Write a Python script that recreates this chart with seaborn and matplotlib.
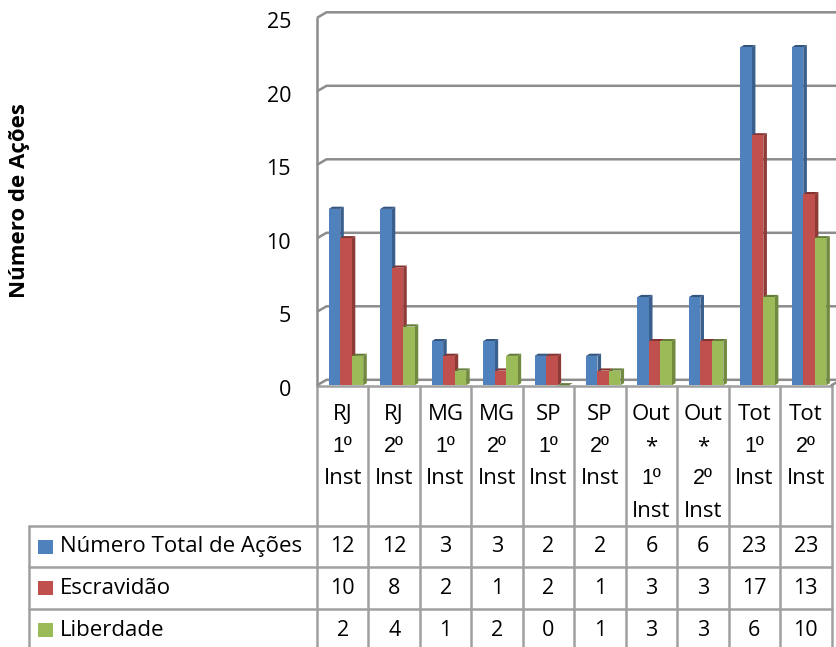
import numpy as np
import pandas as pd
import matplotlib
matplotlib.use("Agg")
import matplotlib.pyplot as plt
import seaborn as sns
from matplotlib.patches import Polygon, Rectangle

# ---------------- data ----------------
categories = ["RJ\n1º\nInst", "RJ\n2º\nInst", "MG\n1º\nInst", "MG\n2º\nInst",
              "SP\n1º\nInst", "SP\n2º\nInst", "Out\n*\n1º\nInst", "Out\n*\n2º\nInst",
              "Tot\n1º\nInst", "Tot\n2º\nInst"]
series_names = ["Número Total de Ações", "Escravidão", "Liberdade"]
total = [12, 12, 3, 3, 2, 2, 6, 6, 23, 23]
escravidao = [10, 8, 2, 1, 2, 1, 3, 3, 17, 13]
liberdade = [2, 4, 1, 2, 0, 1, 3, 3, 6, 10]
y_ticks = [0, 5, 10, 15, 20, 25]
y_label = "Número de Ações"

face_colors = ["#4F81BD", "#C0504D", "#9BBB59"]
side_colors = ["#3A5F8C", "#8E3A37", "#718A40"]
top_colors = ["#34557E", "#83332F", "#667D39"]
grid_c = "#8C8C8C"
table_c = "#A0A0A0"

sns.set_theme(style="white")
plt.rcParams['font.family'] = ['Open Sans', 'DejaVu Sans']
FS = 16
ORD_FAMILY = ['Liberation Sans', 'DejaVu Sans']

W, H = 836, 647
fig = plt.figure(figsize=(W / 100, H / 100), dpi=100)
fig.patch.set_facecolor("white")

# layout (pixels)
ncol = len(categories)
x_left = 317.0
col_w = 51.45
x_right = x_left + col_w * ncol
y_zero = 385.3
px_per_unit = 14.7
ymax = 25
y_top = y_zero - ymax * px_per_unit

# overlay axes in pixel space for the data table
tab = fig.add_axes([0, 0, 1, 1])
tab.set_xlim(0, W)
tab.set_ylim(H, 0)
tab.axis("off")

ax = fig.add_axes([x_left / W, 1 - y_zero / H, (x_right - x_left) / W, (y_zero - y_top) / H])
ax.patch.set_visible(False)

df = pd.DataFrame({
    "Categoria": categories * 3,
    "Série": np.repeat(series_names, ncol),
    "Valor": total + escravidao + liberdade,
})
sns.barplot(data=df, x="Categoria", y="Valor", hue="Série", order=categories,
            hue_order=series_names, palette=face_colors, saturation=1,
            width=0.67, gap=0, legend=False, errorbar=None, ax=ax)

shift = 3.25 / col_w
ax.set_xlim(-0.5 - shift, ncol - 0.5 - shift)
ax.set_ylim(0, ymax)
ax.set_xticks([])
ax.set_yticks([])
ax.set_xlabel("")
ax.set_ylabel("")
for s in ax.spines.values():
    s.set_visible(False)

# 3D bar sides and tops
dx = 3.6 / col_w
dy = 2.2 / px_per_unit
for k, cont in enumerate(ax.containers):
    for p in cont:
        x0, w, h = p.get_x(), p.get_width(), p.get_height()
        p.set_edgecolor("none")
        p.set_zorder(3 + 0.1 * k + 0.05)
        ax.add_patch(Polygon([(x0 + w, 0), (x0 + w + dx, dy), (x0 + w + dx, h + dy), (x0 + w, h)],
                             closed=True, fc=side_colors[k], ec="none", zorder=3 + 0.1 * k, clip_on=False))
        ax.add_patch(Polygon([(x0, h), (x0 + dx, h + dy), (x0 + w + dx, h + dy), (x0 + w, h)],
                             closed=True, fc=top_colors[k], ec="none", zorder=3 + 0.1 * k, clip_on=False))

# back wall gridlines and side wall
xl0, xl1 = ax.get_xlim()
bdx = 9.5 / col_w
bdy = 5.5 / px_per_unit
for v in y_ticks:
    ax.plot([xl0, xl0 + bdx, xl1 + 2], [v, v + bdy, v + bdy], color=grid_c, lw=1.8,
            clip_on=False, zorder=1, solid_joinstyle="miter", solid_capstyle="butt")
ax.plot([xl0, xl0], [0, ymax], color=grid_c, lw=1.8, clip_on=False, zorder=1)
ax.plot([xl1, xl1 + bdx], [0, bdy], color=grid_c, lw=1.8, clip_on=False, zorder=1)

# y tick labels
for v in y_ticks:
    ax.annotate(str(v), xy=(0, v), xycoords=("axes fraction", "data"),
                xytext=(-26, -5), textcoords="offset pixels", ha="right", va="center",
                fontsize=FS - 0.5, color="black")

fig.text(19.5 / W, 1 - 201 / H, y_label, rotation=90, ha="center", va="center",
         fontsize=FS, fontweight="bold", color="black")

# ---------------- data table ----------------
hdr_top = 386.0
row_lines = [525.7, 567.3, 609.3]
row_centers = [546.5, 588.3, 630.0]
leg_left = 29.0
for i in range(ncol + 1):
    x = x_left + i * col_w
    tab.plot([x, x], [hdr_top, H + 5], color=table_c, lw=1.8, clip_on=False)
tab.plot([leg_left, leg_left], [row_lines[0], H + 5], color=table_c, lw=1.8, clip_on=False)
tab.plot([x_left, x_right], [hdr_top, hdr_top], color=table_c, lw=1.8)
for y in row_lines:
    tab.plot([leg_left, x_right], [y, y], color=table_c, lw=1.8)

for i, cat in enumerate(categories):
    xc = x_left + (i + 0.5) * col_w
    for j, line in enumerate(cat.split("\n")):
        kw = {"family": ORD_FAMILY, "fontsize": FS - 0.5} if "º" in line else {"fontsize": FS}
        tab.text(xc, 414 + 32.5 * j, line, ha="center", va="center", color="black", **kw)

for r, (name, vals) in enumerate(zip(series_names, [total, escravidao, liberdade])):
    yc = row_centers[r]
    tab.add_patch(Rectangle((38, yc - 7), 15, 14, fc=face_colors[r], ec="none"))
    tab.text(60, yc, name, ha="left", va="center", fontsize=FS, color="black")
    for i, v in enumerate(vals):
        tab.text(x_left + (i + 0.5) * col_w, yc, str(v), ha="center", va="center",
                 fontsize=FS - 0.5, color="black")

fig.savefig("out.png", dpi=100, facecolor="white")
